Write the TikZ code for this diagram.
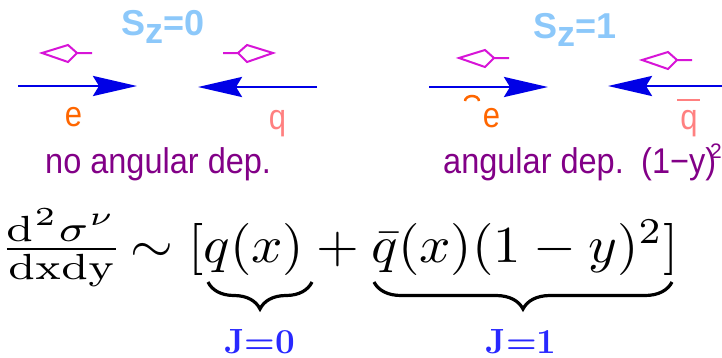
\documentclass[tikz,border=0pt]{standalone}
\usepackage{fontspec}
\usepackage{amsmath}
\usepackage{graphicx}
\usetikzlibrary{arrows.meta,calc,decorations.pathreplacing}
\newfontfamily\arialf{Liberation Sans}
\definecolor{szblue}{RGB}{140,200,250}
\definecolor{helmag}{RGB}{215,20,215}
\definecolor{beamblue}{RGB}{0,0,230}
\definecolor{eorange}{RGB}{255,102,0}
\definecolor{qpink}{RGB}{255,128,128}
\definecolor{angpurple}{RGB}{130,0,135}
\definecolor{jblue}{RGB}{40,40,255}
\begin{document}
\begin{tikzpicture}[x=1pt,y=-1pt,
  sztext/.style={inner sep=0, anchor=base west, text=szblue, font=\arialf\bfseries\fontsize{36}{36}\selectfont},
  particle/.style={inner sep=0, anchor=center, font=\arialf\fontsize{31}{31}\selectfont},
  angtext/.style={inner sep=0, anchor=base west, text=angpurple, font=\arialf\fontsize{32.5}{32.5}\selectfont},
  helic/.style={draw=helmag, line width=2pt, line join=miter},
  beam/.style={draw=beamblue, line width=2.8pt, -{Stealth[length=44pt,width=20pt,inset=6pt]}},
  jlabel/.style={inner sep=0, anchor=base, text=jblue, font=\bfseries\fontsize{35}{35}\selectfont},
  brc/.style={decorate, decoration={brace, mirror, amplitude=27pt}, line width=3.2pt},
  kiteL/.pic={\draw[helic] (0,0) -- (26,-8) -- (35,0) -- (26,9) -- cycle (35,0) -- (50,0);},
  kiteR/.pic={\draw[helic] (0,0) -- (-26,-8) -- (-35,0) -- (-26,9) -- cycle (-35,0) -- (-50,0);}
]
\useasboundingbox (0,0) rectangle (722,357);

% spin labels
\node[sztext] (sz0) at (121,35) {S\raisebox{-8pt}{z}=0};
\node[sztext] (sz1) at (533,38) {S\raisebox{-8pt}{z}=1};

% helicity arrows
\pic at (42,53) {kiteL};
\pic at (273,53) {kiteR};
\pic at (459,58) {kiteL};
\pic at (642,60) {kiteL};

% beams
\coordinate (b1s) at (18,86);  \coordinate (b1e) at (137,86);
\coordinate (b2s) at (317,87); \coordinate (b2e) at (198,87);
\coordinate (b3s) at (429,87); \coordinate (b3e) at (548,87);
\coordinate (b4s) at (722,86); \coordinate (b4e) at (608,86);
\draw[beam] (b1s) -- (b1e);
\draw[beam] (b2s) -- (b2e);
\draw[beam] (b3s) -- (b3e);
\draw[beam] (b4s) -- (b4e);

% particles
\node[particle, text=eorange] (e1) at (73.5,117) {\scalebox{1}[1.15]{e}};
\node[particle, text=qpink] (q1) at (277.5,124) {\scalebox{1}[1.15]{q}};
\node[particle, text=eorange] (e2) at (491.5,118) {\scalebox{1}[1.15]{e}};
\node[particle, text=qpink] (q2) at (689,124) {\scalebox{1}[1.15]{q}};
\draw[qpink, line width=2pt] ($(q2.north west)+(-3,-11)$) -- ($(q2.north east)+(2,-11)$);
\draw[eorange, line width=2.5pt] (465,101) arc[start angle=180, end angle=360, x radius=7, y radius=5];

% angular texts
\node[angtext] (nad) at (45,173) {\scalebox{1}[1.1]{no angular dep.}};
\node[angtext] (ad) at (443,173) {\scalebox{1}[1.1]{angular dep.}};
\node[angtext] (oy) at (641,173) {\scalebox{1}[1.1]{(1−y)}};
\node[angtext, font=\arialf\fontsize{21}{21}\selectfont] (sq) at (710,158) {2};

% formula
\node[inner sep=0, anchor=base] (frac) at (61.5,262) {\scalebox{6.2}[5.2]{$\frac{\mathrm{d}^2\sigma^\nu}{\mathrm{dxdy}}$}};
\node[inner sep=0, anchor=base west] (eq) at (130,262) {\scalebox{5.5}[5.2]{$\sim[q(x)+\bar q(x)(1-y)^2]$}};

% underbraces
\coordinate (br1a) at (208,282); \coordinate (br1b) at (312,282);
\coordinate (br2a) at (374,282); \coordinate (br2b) at (672,282);
\draw[brc] (br1a) -- (br1b);
\draw[brc] (br2a) -- (br2b);

% J labels
\node[jlabel] (j0) at (259.5,353) {J=0};
\node[jlabel] (j1) at (521,353) {J=1};
\end{tikzpicture}
\end{document}
